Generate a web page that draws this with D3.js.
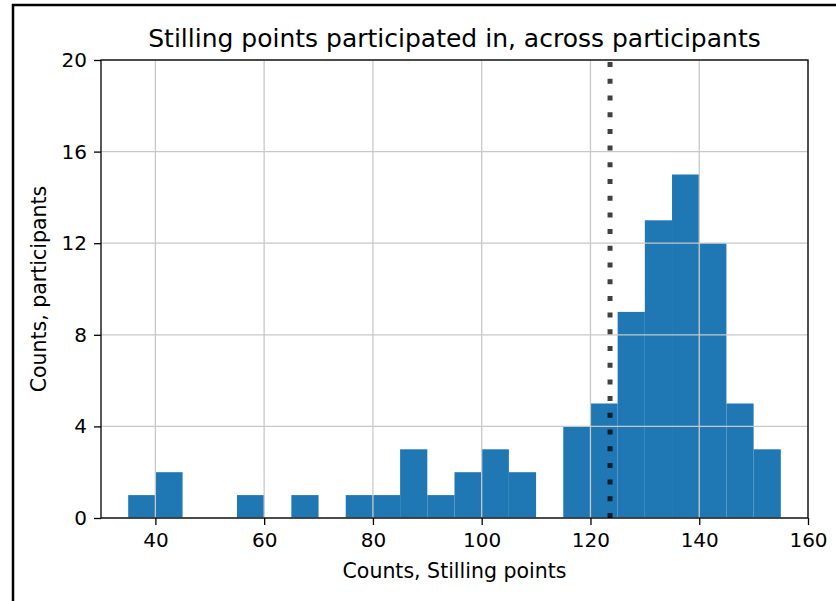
<!DOCTYPE html>
<html>
<head>
<meta charset="utf-8">
<script src="https://cdn.jsdelivr.net/npm/d3@7"></script>
<style>
  body { margin: 0; background: #fff; }
  text { font-family: "DejaVu Sans", sans-serif; fill: #000; }
</style>
</head>
<body>
<div id="chart"></div>
<script>
// histogram bins, width 5
const binStarts = [35, 40, 45, 50, 55, 60, 65, 70, 75, 80, 85, 90, 95, 100, 105, 110, 115, 120, 125, 130, 135, 140, 145, 150];
const binCounts = [1, 2, 0, 0, 1, 0, 1, 0, 1, 1, 3, 1, 2, 3, 2, 0, 4, 5, 9, 13, 15, 12, 5, 3];
const binWidth = 5;
const meanLine = 123.6;
const xTicks = [40, 60, 80, 100, 120, 140, 160];
const yTicks = [0, 4, 8, 12, 16, 20];

const width = 836, height = 601;
const margin = { top: 60, right: 28, bottom: 83, left: 101 };

const svg = d3.select("#chart").append("svg")
  .attr("width", width)
  .attr("height", height);

// figure frame
svg.append("rect")
  .attr("x", 13).attr("y", 5)
  .attr("width", width + 10).attr("height", height + 10)
  .attr("fill", "none").attr("stroke", "#000").attr("stroke-width", 2.5);

const x = d3.scaleLinear().domain([30, 160]).range([margin.left, width - margin.right]);
const y = d3.scaleLinear().domain([0, 20]).range([height - margin.bottom, margin.top]);

// bars
svg.selectAll(".bar")
  .data(binStarts.map((s, i) => ({ s, c: binCounts[i] })).filter(d => d.c > 0))
  .enter().append("rect")
  .attr("class", "bar")
  .attr("x", d => x(d.s))
  .attr("y", d => y(d.c))
  .attr("width", d => x(d.s + binWidth) - x(d.s))
  .attr("height", d => y(0) - y(d.c))
  .attr("fill", "#1f77b4");

// grid over bars
svg.append("g")
  .selectAll("line.vg").data(xTicks).enter().append("line")
  .attr("x1", d => x(d)).attr("x2", d => x(d))
  .attr("y1", y(0)).attr("y2", y(20))
  .attr("stroke", "#c8c8c8").attr("stroke-width", 1.3);
svg.append("g")
  .selectAll("line.hg").data(yTicks).enter().append("line")
  .attr("x1", x(30)).attr("x2", x(160))
  .attr("y1", d => y(d)).attr("y2", d => y(d))
  .attr("stroke", "#c8c8c8").attr("stroke-width", 1.3);

// dotted mean line
svg.append("line")
  .attr("x1", x(meanLine)).attr("x2", x(meanLine))
  .attr("y1", y(0)).attr("y2", y(20))
  .attr("stroke", "#000").attr("stroke-opacity", 0.75)
  .attr("stroke-width", 5)
  .attr("stroke-dasharray", "5,11.7");

// frame of axes
svg.append("rect")
  .attr("x", x(30)).attr("y", y(20))
  .attr("width", x(160) - x(30)).attr("height", y(0) - y(20))
  .attr("fill", "none").attr("stroke", "#000").attr("stroke-width", 1.3);

const xAxis = svg.append("g")
  .attr("transform", `translate(0,${y(0)})`)
  .call(d3.axisBottom(x).tickValues(xTicks).tickSize(7).tickPadding(8).tickSizeOuter(0));
const yAxis = svg.append("g")
  .attr("transform", `translate(${x(30)},0)`)
  .call(d3.axisLeft(y).tickValues(yTicks).tickSize(7).tickPadding(7).tickSizeOuter(0));

[xAxis, yAxis].forEach(g => {
  g.select(".domain").remove();
  g.selectAll(".tick line").attr("stroke", "#000").attr("stroke-width", 1.3);
  g.selectAll(".tick text").style("font-size", "20px").style("font-family", "DejaVu Sans");
});

svg.append("text")
  .attr("x", (x(30) + x(160)) / 2).attr("y", 47)
  .attr("text-anchor", "middle")
  .style("font-size", "25px")
  .text("Stilling points participated in, across participants");

svg.append("text")
  .attr("x", (x(30) + x(160)) / 2).attr("y", 578)
  .attr("text-anchor", "middle")
  .style("font-size", "20.5px")
  .text("Counts, Stilling points");

svg.append("text")
  .attr("transform", `translate(46,${(y(0) + y(20)) / 2}) rotate(-90)`)
  .attr("text-anchor", "middle")
  .style("font-size", "20.5px")
  .text("Counts, participants");
</script>
</body>
</html>
